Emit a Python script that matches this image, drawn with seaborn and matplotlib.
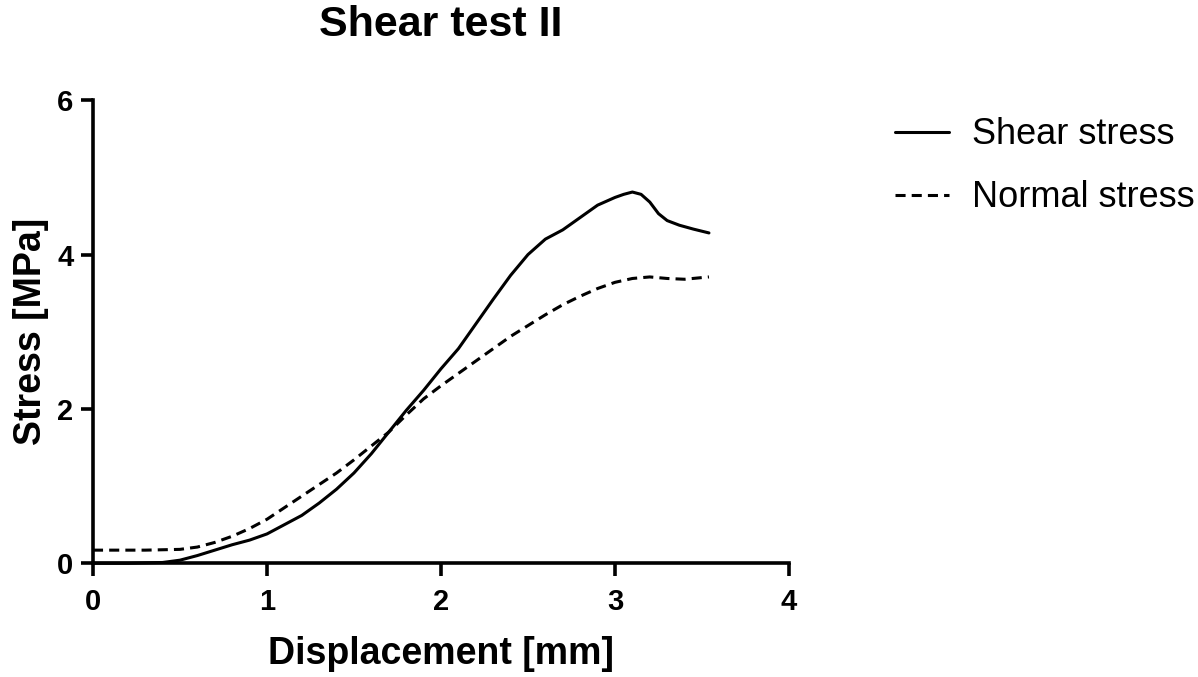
import pandas as pd
import matplotlib.pyplot as plt
import seaborn as sns

# ==========================================
# Data
# ==========================================

shear_x = [0.0, 0.2, 0.4, 0.5, 0.6, 0.7, 0.8, 0.9, 1.0, 1.1, 1.2, 1.3, 1.4,
           1.5, 1.6, 1.7, 1.8, 1.9, 2.0, 2.1, 2.2, 2.3, 2.4, 2.5, 2.6, 2.7,
           2.8, 2.9, 3.0, 3.05, 3.1, 3.15, 3.2, 3.25, 3.3, 3.37, 3.45, 3.54]
shear_y = [0.0, 0.0, 0.01, 0.04, 0.1, 0.17, 0.24, 0.3, 0.38, 0.5, 0.62, 0.78,
           0.96, 1.17, 1.42, 1.7, 1.98, 2.24, 2.52, 2.78, 3.1, 3.42, 3.73, 4.0,
           4.2, 4.32, 4.48, 4.64, 4.74, 4.78, 4.81, 4.78, 4.68, 4.53, 4.44,
           4.38, 4.33, 4.28]

normal_x = [0.0, 0.3, 0.5, 0.6, 0.7, 0.8, 0.9, 1.0, 1.1, 1.2, 1.3, 1.4, 1.5,
            1.6, 1.7, 1.8, 1.9, 2.0, 2.1, 2.2, 2.3, 2.4, 2.5, 2.6, 2.7, 2.8,
            2.9, 3.0, 3.1, 3.2, 3.3, 3.4, 3.54]
normal_y = [0.17, 0.17, 0.18, 0.21, 0.27, 0.35, 0.45, 0.57, 0.72, 0.87, 1.02,
            1.17, 1.34, 1.52, 1.7, 1.92, 2.13, 2.3, 2.46, 2.62, 2.78, 2.94,
            3.08, 3.22, 3.35, 3.46, 3.56, 3.64, 3.69, 3.71, 3.69, 3.68, 3.71]

x_ticks = [0, 1, 2, 3, 4]
y_ticks = [0, 2, 4, 6]

# ==========================================
# Long table for seaborn
# ==========================================

df = pd.concat([
    pd.DataFrame({"x": shear_x, "y": shear_y, "series": "Shear stress"}),
    pd.DataFrame({"x": normal_x, "y": normal_y, "series": "Normal stress"}),
])

# ==========================================
# Plot
# ==========================================

sns.set_style("ticks")
plt.rcParams["font.family"] = ["Liberation Sans", "DejaVu Sans"]
plt.rcParams.update({
    "text.color": "black",
    "axes.labelcolor": "black",
    "axes.edgecolor": "black",
    "xtick.color": "black",
    "ytick.color": "black",
})

fig = plt.figure(figsize=(11.98, 6.77), dpi=100)
ax = fig.add_axes([0.0776, 0.168, 0.581, 0.684])

sns.lineplot(
    data=df,
    x="x",
    y="y",
    style="series",
    dashes={"Shear stress": "", "Normal stress": (3.3, 2)},
    color="black",
    linewidth=2.2,
    sort=False,
    estimator=None,
    ax=ax,
)

ax.set_xlim(0, 4)
ax.set_ylim(0, 6)
ax.set_xticks(x_ticks)
ax.set_yticks(y_ticks)
for line in ax.lines:
    line.set_clip_on(False)

sns.despine(ax=ax)
for side in ["left", "bottom"]:
    ax.spines[side].set_linewidth(2.6)
ax.tick_params(width=2.6, length=9, labelsize=21)
ax.tick_params(axis="x", pad=9)
ax.tick_params(axis="y", pad=5)
for lab in ax.get_xticklabels() + ax.get_yticklabels():
    lab.set_fontweight("bold")

ax.set_xlabel("Displacement [mm]", fontsize=27, fontweight="bold", labelpad=14)
ax.set_ylabel("Stress [MPa]", fontsize=27, fontweight="bold", labelpad=6)
ax.set_title("Shear test II", fontsize=31, fontweight="bold", pad=46)

leg = ax.legend(
    loc="center left",
    bbox_to_anchor=(1.105, 0.857),
    frameon=False,
    fontsize=26,
    handlelength=1.5,
    handletextpad=0.65,
    labelspacing=0.78,
)

plt.savefig("out.png", dpi=100)
